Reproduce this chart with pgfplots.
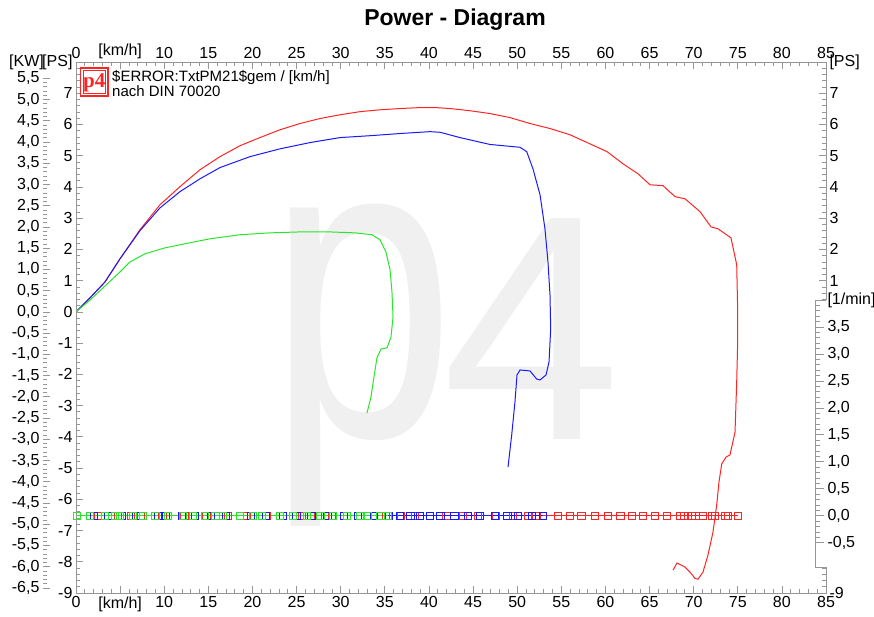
\documentclass[border=0pt]{standalone}
\usepackage{graphicx}
\usepackage{pgfplots}
\pgfplotsset{compat=1.18}
\usepackage{fontspec}
\setmainfont{Liberation Sans}
\newfontfamily\seriffont{Liberation Serif}
\definecolor{axgray}{RGB}{150,150,150}
\definecolor{cred}{RGB}{255,35,35}
\definecolor{cblue}{RGB}{25,25,255}
\definecolor{cgreen}{RGB}{40,230,40}
\definecolor{wm}{RGB}{240,240,240}
\newcommand{\tf}{\fontsize{16}{16}\selectfont}
\pgfplotsset{
  common/.style={scale only axis, width=750pt, height=531pt,
    xmin=0, xmax=85, ymin=-9, ymax=8,
    axis line style={axgray, line width=0.8pt},
    tick style={axgray, line width=0.7pt},
    major tick length=7pt, minor tick length=4pt, tick align=inside,
    ticklabel style={font=\tf, text=black},
    /pgf/number format/assume math mode=true,
    xtick={0,5,10,15,20,25,30,35,40,45,50,55,60,65,70,75,80,85},
    xticklabels={0,{[km/h]},10,15,20,25,30,35,40,45,50,55,60,65,70,75,80,85},
    minor x tick num=4,
    ytick={-9,-8,-7,-6,-5,-4,-3,-2,-1,0,1,2,3,4,5,6,7,8},
    minor y tick num=4},
}
\begin{document}
\begin{tikzpicture}[x=1pt,y=1pt]
\path[use as bounding box] (0,0) rectangle (874,617);
% watermark
\node[anchor=base west, inner sep=0, text=wm] at (268,180) {\scalebox{0.8}[1.03]{\fontsize{420}{420}\selectfont p}};
\node[anchor=base west, inner sep=0, text=wm] at (442,177) {\fontsize{321}{321}\selectfont 4};
% title
\node[anchor=base, font=\bfseries\fontsize{23}{23}\selectfont] at (455,591) {Power - Diagram};

\begin{axis}[common, at={(76pt,24pt)}, anchor=south west,
  xtick pos=bottom, xticklabel pos=bottom, ytick pos=left, yticklabel pos=left,
  yticklabels={-9,-8,-7,-6,-5,-4,-3,-2,-1,0,1,2,3,4,5,6,7,{[PS]}}]
\addplot[cred, line width=1pt] coordinates {
(0,0) (1.59,0.45) (3.29,0.96) (4.99,1.70) (7.25,2.63) (9.52,3.43) (11.79,4.01) (14.05,4.55) (16.32,4.97) (18.59,5.32) (20.85,5.58) (23.12,5.83) (25.39,6.03) (27.65,6.19) (29.92,6.31) (32.19,6.41) (34.45,6.47) (36.72,6.51) (38.99,6.54) (40.8,6.54) (42.39,6.51) (44.65,6.44) (46.92,6.35) (49.19,6.22) (51.45,6.03) (53.72,5.87) (55.99,5.67) (58.25,5.38) (60.18,5.13) (62.0,4.74) (63.7,4.42) (65.05,4.07) (66.53,4.04) (67.89,3.69) (69.02,3.62) (70.72,3.21) (71.97,2.72) (72.76,2.66) (74.23,2.37) (74.88,1.51) (74.97,0.32) (74.99,-0.96) (74.88,-2.24) (74.69,-3.85) (74.12,-4.58) (73.67,-4.65) (73.18,-4.87) (72.87,-5.45) (72.61,-6.19) (72.19,-7.05) (71.62,-7.79) (71.06,-8.33) (70.49,-8.56) (70.15,-8.53) (69.58,-8.33) (69.02,-8.17) (68.11,-8.04) (67.66,-8.27)};
\addplot[cblue, line width=1pt] coordinates {
(0,0) (1.59,0.45) (3.29,0.96) (4.99,1.70) (7.25,2.60) (9.52,3.33) (11.79,3.85) (14.05,4.26) (16.32,4.62) (19.72,4.97) (23.12,5.22) (26.52,5.42) (29.92,5.58) (33.32,5.64) (36.72,5.71) (40.12,5.77) (41.26,5.75) (43.52,5.58) (46.92,5.36) (50.32,5.27) (51.08,5.13) (51.79,4.58) (52.59,3.75) (53.15,2.66) (53.49,1.60) (53.72,0.54) (53.8,-0.54) (53.61,-1.60) (53.27,-2.02) (52.59,-2.18) (52.21,-2.15) (51.45,-1.89) (50.32,-1.86) (49.98,-2.02) (49.75,-2.88) (49.38,-3.94) (48.96,-4.97)};
\addplot[cgreen, line width=1pt] coordinates {
(0,0) (1.59,0.38) (3.29,0.83) (4.99,1.28) (6.12,1.60) (7.82,1.86) (10.09,2.05) (12.35,2.18) (15.19,2.34) (18.59,2.47) (21.99,2.53) (25.39,2.56) (28.79,2.56) (31.62,2.53) (33.55,2.47) (34.45,2.31) (35.13,1.92) (35.59,1.35) (35.81,0.64) (35.93,-0.16) (35.7,-0.80) (35.25,-1.15) (34.57,-1.19) (34.11,-1.47) (33.77,-2.08) (33.43,-2.72) (32.98,-3.24)};
\end{axis}

\begin{axis}[common, at={(76pt,24pt)}, anchor=south west,
  xtick pos=top, xticklabel pos=top, ytick pos=right, yticklabel pos=right,
  yticklabels={-9,{},{},{},{},{},{},{},{},{},1,2,3,4,5,6,7,{[PS]}}]
\end{axis}

% KW axis
\begin{axis}[at={(43pt,24pt)}, anchor=south west, scale only axis,
  width=20pt, height=531pt, xmin=0, xmax=1,
  ymin=-6.61949, ymax=5.88399, hide x axis, axis y line*=left,
  axis line style={draw=none}, tick style={axgray, line width=0.7pt},
  major tick length=7pt, minor tick length=4pt, tick align=inside,
  ytick={-6.5,-6,-5.5,-5,-4.5,-4,-3.5,-3,-2.5,-2,-1.5,-1,-0.5,0,0.5,1,1.5,2,2.5,3,3.5,4,4.5,5,5.5},
  minor y tick num=4,
  yticklabel style={font=\tf, text=black, /pgf/number format/.cd, fixed, fixed zerofill, precision=1, use comma, assume math mode=true}]
\end{axis}
\node[anchor=east, font=\tf, inner sep=0] at (44,555) {[KW]};

% legend
\fill[white] (80.5,521) rectangle (108,549);
\draw[cred, line width=1.1pt] (80.5,521) rectangle (108,549);
\draw[cred, line width=0.4pt] (83,523.5) rectangle (105.5,546.5);
\node[text=cred, inner sep=0, font=\seriffont\bfseries\fontsize{21}{21}\selectfont] at (94.2,534.5) {p4};
\node[anchor=base west, font=\fontsize{15}{15}\selectfont, inner sep=0] at (112,535.5) {\$ERROR:TxtPM21\$gem / [km/h]};
\node[anchor=base west, font=\fontsize{15}{15}\selectfont, inner sep=0] at (112,520) {nach DIN 70020};

% rpm panel
\fill[white] (815,50) rectangle (880,317);
\draw[axgray, line width=0.8pt] (826,50) -- (815,50) -- (815,317) -- (826,317);
\begin{axis}[at={(76pt,50pt)}, anchor=south west, scale only axis,
  width=739pt, height=267pt, xmin=0, xmax=83.753, ymin=-0.95, ymax=4,
  hide x axis, axis y line*=right, clip=false,
  axis line style={axgray, line width=0.8pt}, tick style={axgray, line width=0.7pt},
  major tick length=9pt, minor tick length=5pt, tick align=outside,
  ytick={-0.5,0,0.5,1,1.5,2,2.5,3,3.5,4},
  yticklabels={{-0,5},{0,0},{0,5},{1,0},{1,5},{2,0},{2,5},{3,0},{3,5},{[1/min]}},
  minor y tick num=4,
  yticklabel style={font=\tf, text=black}]
\addplot[cred, line width=1pt, mark=square, mark size=3.6pt] coordinates {
(0.1,0) (2.5,0) (4.8,0) (6.2,0) (7.4,0) (9.8,0) (12.3,0) (14.8,0) (17.2,0) (19.4,0) (21.6,0) (23.5,0) (25.6,0) (27.4,0) (29.0,0) (30.7,0) (33.0,0) (35.1,0) (36.8,0) (38.4,0) (40.1,0) (42.0,0) (43.9,0) (45.6,0) (47.6,0) (49.5,0) (51.2,0) (52.2,0) (54.6,0) (56.0,0) (57.3,0) (58.8,0) (60.3,0) (61.7,0) (63.0,0) (64.3,0) (65.6,0) (67.0,0) (68.5,0) (68.9,0) (69.8,0) (70.2,0) (71.1,0) (72.1,0) (72.4,0) (73.6,0) (73.9,0) (75.0,0)};
\addplot[cblue, line width=1pt, mark=square, mark size=3.6pt] coordinates {
(0.1,0) (2.0,0) (3.6,0) (5.2,0) (6.8,0) (9.3,0) (10.2,0) (12.0,0) (13.5,0) (15.3,0) (17.0,0) (19.8,0) (21.5,0) (23.5,0) (25.0,0) (26.7,0) (28.5,0) (30.4,0) (32.0,0) (33.8,0) (35.5,0) (36.7,0) (37.9,0) (39.0,0) (40.1,0) (41.3,0) (42.9,0) (44.4,0) (45.8,0) (47.5,0) (48.9,0) (50.1,0) (51.7,0) (52.9,0)};
\addplot[cgreen, line width=1pt, mark=square, mark size=3.6pt] coordinates {
(0.1,0) (1.6,0) (3.3,0) (4.4,0) (5.0,0) (6.5,0) (7.6,0) (9.0,0) (10.4,0) (12.1,0) (13.3,0) (14.6,0) (15.8,0) (16.7,0) (18.6,0) (20.1,0) (21.1,0) (23.1,0) (24.6,0) (26.2,0) (27.7,0) (29.1,0) (30.7,0) (32.2,0) (33.1,0) (34.5,0) (35.4,0)};
\end{axis}
\end{tikzpicture}
\end{document}
